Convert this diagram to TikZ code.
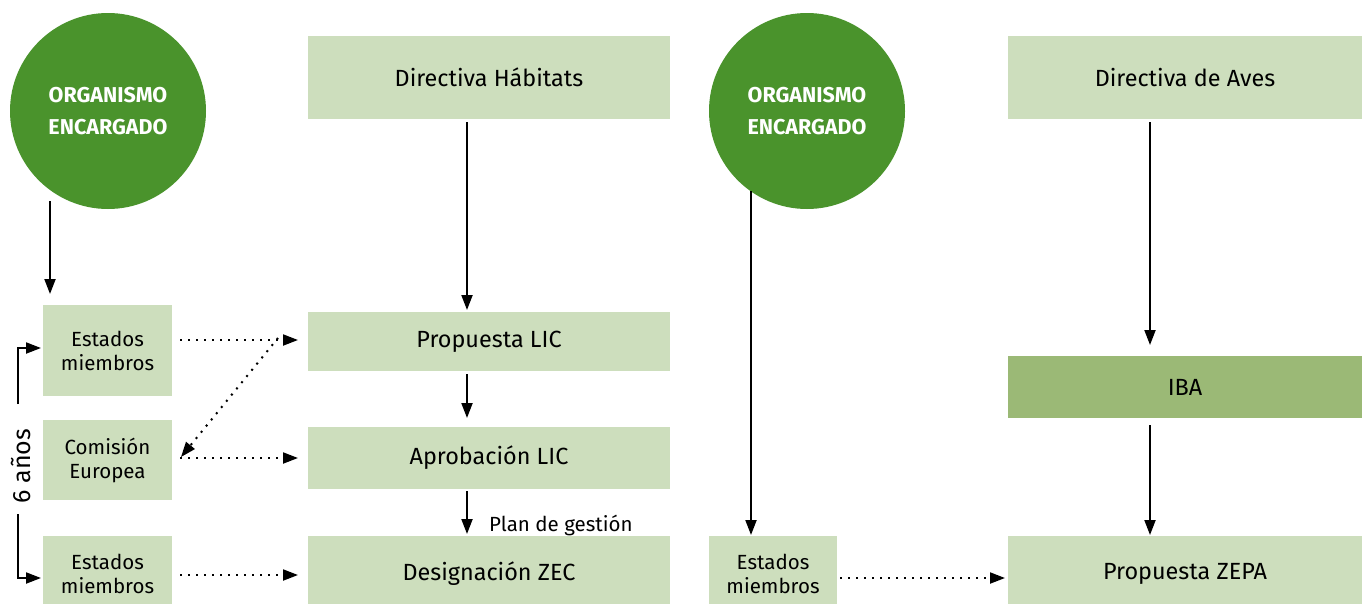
\documentclass[tikz,border=0pt]{standalone}
\usepackage{fontspec}
\setmainfont{Fira Sans}
\usetikzlibrary{arrows.meta}
\definecolor{lightg}{RGB}{205,222,189}
\definecolor{darkg}{RGB}{74,147,44}
\definecolor{ibag}{RGB}{155,185,118}
\tikzset{
  box/.style={fill=lightg, inner sep=0pt, align=center, font=\fontsize{23.4}{28}\selectfont},
  sbox/.style={fill=lightg, inner sep=0pt, align=center, font=\fontsize{20.5}{24}\selectfont},
  org/.style={circle, fill=darkg, minimum size=196pt, inner sep=0pt, align=center, text=white, font=\fontsize{21.5}{32}\selectfont\bfseries},
  arr/.style={line width=2pt, -{Triangle[width=11pt,length=15pt]}},
  dot/.style={line width=2pt, dash pattern=on 2pt off 6pt, -{Triangle[width=11pt,length=15pt]}},
}
\begin{document}
\begin{tikzpicture}[x=1pt,y=-1pt]
\useasboundingbox (0,0) rectangle (1362,603);
% circles
\node[org] (c1) at (108,111) {ORGANISMO\\ENCARGADO};
\node[org] (c2) at (807,111) {ORGANISMO\\ENCARGADO};
% big boxes
\node[box, minimum width=362pt, minimum height=83pt] (dh) at (489,77.5) {Directiva Hábitats};
\node[box, minimum width=354pt, minimum height=83pt] (da) at (1185,77.5) {Directiva de Aves};
\node[box, minimum width=362pt, minimum height=59pt] (plic) at (489,341.5) {Propuesta LIC};
\node[box, minimum width=362pt, minimum height=62pt] (alic) at (489,458) {Aprobación LIC};
\node[box, minimum width=362pt, minimum height=76pt] (zec) at (489,574) {Designación ZEC};
\node[box, minimum width=354pt, minimum height=62pt, fill=ibag] (iba) at (1185,387) {IBA};
\node[box, minimum width=354pt, minimum height=76pt] (zepa) at (1185,574) {Propuesta ZEPA};
% small boxes
\node[sbox, minimum width=129pt, minimum height=91pt] (em1) at (107.5,350.5) {Estados\\miembros};
\node[sbox, minimum width=129pt, minimum height=80pt] (ce) at (107.5,460) {Comisión\\Europea};
\node[sbox, minimum width=129pt, minimum height=76pt] (em2) at (107.5,574) {Estados\\miembros};
\node[sbox, minimum width=128pt, minimum height=76pt] (em3) at (773,574) {Estados\\miembros};
% solid arrows
\coordinate (c1s) at (50,201);
\coordinate (em1t) at (50,294);
\draw[arr] (c1s) -- (em1t);
\coordinate (dhs) at (467,122); \coordinate (plict) at (467,310);
\draw[arr] (dhs) -- (plict);
\coordinate (plicb) at (467,374); \coordinate (alict) at (467,418);
\draw[arr] (plicb) -- (alict);
\coordinate (alicb) at (467,491); \coordinate (zect) at (467,534);
\draw[arr] (alicb) -- (zect);
\node[anchor=west, inner sep=0pt, font=\fontsize{20.5}{24}\selectfont] (plan) at (489,525) {Plan de gestión};
\coordinate (c2s) at (751,191);
\coordinate (em3t) at (751,535);
\draw[arr] (c2s) -- (em3t);
\coordinate (das) at (1150,122);
\coordinate (ibat) at (1150,345);
\draw[arr] (das) -- (ibat);
\coordinate (ibab) at (1150,425);
\coordinate (zepat) at (1150,535);
\draw[arr] (ibab) -- (zepat);
% dotted arrows
\coordinate (d1a) at (180,340); \coordinate (d1b) at (298,340);
\coordinate (d2a) at (180,458); \coordinate (d2b) at (298,458);
\coordinate (d3a) at (180,575); \coordinate (d3b) at (298,575);
\coordinate (d4a) at (840,578); \coordinate (d4b) at (1005,578);
\coordinate (dga) at (278,338); \coordinate (dgb) at (181,457);
\draw[dot] (d1a) -- (d1b);
\draw[dot] (d2a) -- (d2b);
\draw[dot] (d3a) -- (d3b);
\draw[dot] (d4a) -- (d4b);
\draw[dot] (dga) -- (dgb);
% 6 años bracket
\node[rotate=90, inner sep=0pt, font=\fontsize{25}{30}\selectfont] (anos) at (21,466) {6 años};
\coordinate (b1) at (18,404); \coordinate (b1c) at (18,348); \coordinate (b1e) at (41,348);
\coordinate (b2) at (18,514); \coordinate (b2c) at (18,578); \coordinate (b2e) at (41,578);
\draw[arr] (b1) -- (b1c) -- (b1e);
\draw[arr] (b2) -- (b2c) -- (b2e);
\end{tikzpicture}
\end{document}
